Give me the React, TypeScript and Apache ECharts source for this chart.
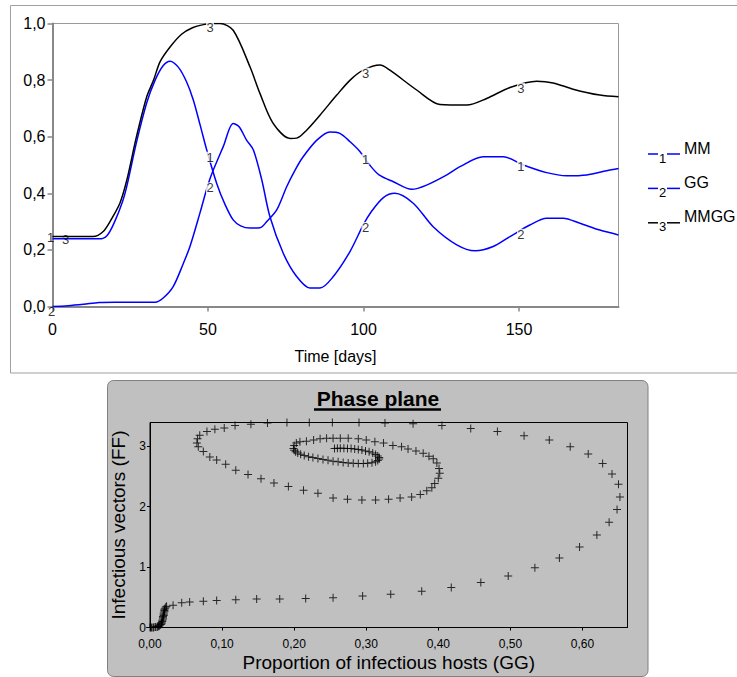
import React, { useEffect, useRef } from "react";
import * as echarts from "echarts";

const FONT = '"Liberation Sans", Arial, sans-serif';

// ---- top chart: time series ----
const seriesNames = ["MM", "GG", "MMGG"];
const seriesDigits = ["1", "2", "3"];
const seriesColors = ["#0000ff", "#0000ff", "#000000"];
const labelDays = [0, 50, 100, 150];
const timeTicks = [0, 50, 100, 150];
const valueTicks = [0, 0.2, 0.4, 0.6, 0.8, 1.0];

const mmPoints: [number, number][] = [
  [0, 0.239], [15, 0.239], [17.5, 0.25], [20, 0.3], [22.5, 0.37], [24, 0.43], [27, 0.58],
  [30.3, 0.72], [33, 0.8], [35.5, 0.85], [37.8, 0.867], [40.5, 0.845], [43.1, 0.794],
  [45.3, 0.729], [47.5, 0.64], [49.6, 0.553], [52.8, 0.435], [55.5, 0.36], [58.1, 0.306],
  [60.5, 0.285], [63.5, 0.277], [66.7, 0.278], [68.9, 0.3], [72.1, 0.341], [75.3, 0.423],
  [78, 0.482], [80.6, 0.529], [85, 0.588], [89.2, 0.617], [92.4, 0.612], [95.7, 0.582],
  [98.9, 0.547], [102, 0.5], [105, 0.465], [109.6, 0.441], [115.5, 0.414], [120.3, 0.429],
  [126.8, 0.465], [131, 0.494], [138.5, 0.529], [145, 0.529], [151.4, 0.5], [158.9, 0.473],
  [165.3, 0.462], [171.8, 0.465], [178.2, 0.48], [182, 0.488],
];

const ggPoints: [number, number][] = [
  [0, 0], [5, 0.003], [10, 0.008], [15, 0.014], [20, 0.015], [33, 0.015], [35.6, 0.03],
  [38.8, 0.07], [42.1, 0.153], [44.2, 0.212], [47.4, 0.33], [50, 0.43], [51.7, 0.482],
  [54.9, 0.565], [58.1, 0.647], [60, 0.635], [62.4, 0.588], [64.6, 0.553], [67.3, 0.447],
  [69.9, 0.318], [74.2, 0.188], [78.5, 0.106], [82.8, 0.065], [86, 0.065], [90.3, 0.106],
  [95.7, 0.195], [100, 0.29], [102.5, 0.335], [106.4, 0.385], [110.1, 0.4], [116, 0.365],
  [122.4, 0.282], [130, 0.218], [135.9, 0.197], [141.7, 0.212], [147.1, 0.247],
  [153.5, 0.288], [158.9, 0.312], [164.2, 0.312], [169.6, 0.294], [176, 0.27], [182, 0.253],
];

const mmggPoints: [number, number][] = [
  [0, 0.247], [13, 0.247], [16.3, 0.265], [19, 0.31], [21.7, 0.366], [23.9, 0.447], [27, 0.6],
  [30.3, 0.741], [32.5, 0.8], [34.6, 0.865], [37.8, 0.917], [41.5, 0.962], [45, 0.985],
  [48.5, 0.996], [51.6, 1.0], [53.9, 1.0], [58.1, 0.976], [63.5, 0.847], [66.7, 0.753],
  [70.9, 0.648], [76.4, 0.594], [78.5, 0.595], [81.7, 0.623], [86, 0.676], [91.4, 0.747],
  [95.7, 0.8], [99.9, 0.835], [105.3, 0.853], [108.5, 0.835], [117.1, 0.765], [124.6, 0.714],
  [133.2, 0.712], [139.6, 0.735], [147.1, 0.774], [155.7, 0.796], [161, 0.79],
  [167.4, 0.768], [176, 0.747], [182, 0.741],
];

// ---- bottom chart: phase plane (GG, FF) ----
const phasePoints: [number, number][] = [
  [0.0, 0.0], [0.001, 0.0], [0.002, 0.0], [0.004, 0.0], [0.005, 0.0], [0.007, 0.01], [0.008, 0.01],
  [0.01, 0.01], [0.011, 0.02], [0.012, 0.02], [0.013, 0.03], [0.014, 0.04], [0.015, 0.05],
  [0.016, 0.06], [0.016, 0.08], [0.017, 0.1], [0.017, 0.12], [0.018, 0.14], [0.018, 0.16],
  [0.018, 0.18], [0.019, 0.2], [0.019, 0.22], [0.019, 0.24], [0.02, 0.26], [0.02, 0.28],
  [0.02, 0.3], [0.021, 0.32], [0.022, 0.34],
  [0.023, 0.35], [0.032, 0.37], [0.044, 0.41], [0.055, 0.42], [0.074, 0.435], [0.0925, 0.447],
  [0.119, 0.46], [0.148, 0.47], [0.18, 0.47], [0.216, 0.48], [0.254, 0.49], [0.295, 0.52],
  [0.334, 0.55], [0.377, 0.6], [0.418, 0.66], [0.459, 0.745], [0.497, 0.85], [0.534, 0.99],
  [0.568, 1.15], [0.596, 1.33], [0.62, 1.53], [0.637, 1.74], [0.648, 1.95], [0.652, 2.16],
  [0.65, 2.37], [0.641, 2.54], [0.628, 2.71], [0.608, 2.87], [0.583, 2.99], [0.554, 3.1],
  [0.519, 3.17], [0.482, 3.24], [0.445, 3.29], [0.405, 3.34], [0.365, 3.37], [0.326, 3.38],
  [0.29, 3.39], [0.253, 3.39], [0.221, 3.39], [0.19, 3.39], [0.163, 3.38], [0.14, 3.36],
  [0.118, 3.34], [0.103, 3.3], [0.09, 3.28], [0.079, 3.24], [0.069, 3.18], [0.066, 3.12],
  [0.065, 3.05], [0.067, 2.99], [0.074, 2.91], [0.083, 2.82], [0.0925, 2.77], [0.105, 2.7],
  [0.119, 2.6], [0.136, 2.53], [0.154, 2.46], [0.172, 2.39], [0.192, 2.33], [0.213, 2.27],
  [0.233, 2.22], [0.254, 2.14], [0.274, 2.12], [0.294, 2.11], [0.313, 2.11], [0.331, 2.12],
  [0.347, 2.14], [0.363, 2.16], [0.375, 2.2], [0.384, 2.26], [0.391, 2.31], [0.395, 2.38],
  [0.4, 2.47], [0.402, 2.55], [0.401, 2.63], [0.398, 2.72], [0.393, 2.79], [0.387, 2.83],
  [0.379, 2.88], [0.369, 2.92], [0.358, 2.95], [0.349, 2.99], [0.337, 3.01], [0.324, 3.05],
  [0.312, 3.07], [0.3, 3.1], [0.289, 3.12], [0.275, 3.13], [0.264, 3.13], [0.254, 3.13],
  [0.245, 3.13], [0.236, 3.12], [0.227, 3.1], [0.217, 3.08], [0.208, 3.07], [0.203, 3.05],
  [0.2, 3.01], [0.199, 2.96], [0.2, 2.93], [0.202, 2.905], [0.205, 2.885], [0.209, 2.865],
  [0.214, 2.845], [0.22, 2.825], [0.226, 2.81], [0.233, 2.795], [0.24, 2.78], [0.247, 2.765],
  [0.254, 2.75], [0.261, 2.74], [0.268, 2.73], [0.275, 2.72], [0.282, 2.715], [0.289, 2.71],
  [0.296, 2.71], [0.302, 2.715], [0.308, 2.725], [0.313, 2.74], [0.316, 2.76], [0.318, 2.785],
  [0.318, 2.81], [0.316, 2.835], [0.313, 2.86], [0.309, 2.885], [0.304, 2.905], [0.299, 2.92],
  [0.294, 2.935], [0.289, 2.945], [0.284, 2.952], [0.279, 2.958], [0.274, 2.962],
  [0.269, 2.964], [0.264, 2.965], [0.26, 2.964], [0.256, 2.962],
];

const seriesPoints = [mmPoints, ggPoints, mmggPoints];
// label offsets for the day-0 labels (layout only)
const startLabelOffsets: [number, number][] = [[-2, -1], [-1, 5], [13, 3]];

function valueAt(points: [number, number][], t: number): number {
  for (let i = 0; i < points.length - 1; i++) {
    const [t0, v0] = points[i];
    const [t1, v1] = points[i + 1];
    if (t >= t0 && t <= t1) {
      if (t1 === t0) return v0;
      return v0 + ((v1 - v0) * (t - t0)) / (t1 - t0);
    }
  }
  return points[points.length - 1][1];
}

const crossSymbol = "path://M3.5,0h1v8h-1zM0,3.5h8v1h-8z";

export default function App() {
  const ref = useRef<HTMLDivElement>(null);
  useEffect(() => {
    if (!ref.current) return;
    const chart = echarts.init(ref.current, undefined, { renderer: "svg" });

    const lineSeries = seriesNames.map((name, i) => ({
      name,
      type: "line",
      xAxisIndex: 0,
      yAxisIndex: 0,
      data: seriesPoints[i],
      showSymbol: false,
      symbol: "none",
      smooth: 0.3,
      lineStyle: { color: seriesColors[i], width: 1.5 },
      z: 2,
    }));

    const labelSeries = seriesNames.map((name, i) => ({
      name: name + "-labels",
      type: "scatter",
      xAxisIndex: 0,
      yAxisIndex: 0,
      symbol: "rect",
      symbolSize: [8, 11],
      symbolOffset: [2, 3],
      itemStyle: { color: "#ffffff" },
      clip: false,
      z: 3,
      label: {
        show: true,
        position: "inside",
        formatter: seriesDigits[i],
        color: "#000",
        fontSize: 13,
        fontFamily: FONT,
      },
      data: labelDays.map((d) => {
        const item: any = { value: [d, valueAt(seriesPoints[i], d)] };
        if (d === labelDays[0]) {
          item.itemStyle = { color: "transparent" };
          item.symbolOffset = startLabelOffsets[i];
        }
        return item;
      }),
    }));

    const legendGraphics: any[] = [];
    seriesNames.forEach((name, i) => {
      const y = 154 + i * 34.4;
      legendGraphics.push(
        { type: "line", shape: { x1: 648, y1: y, x2: 658, y2: y }, style: { stroke: seriesColors[i], lineWidth: 1.5 } },
        { type: "line", shape: { x1: 667, y1: y, x2: 680, y2: y }, style: { stroke: seriesColors[i], lineWidth: 1.5 } },
        {
          type: "text", x: 662.5, y: y + 4,
          style: { text: seriesDigits[i], fontSize: 13, fontFamily: FONT, fill: "#000", align: "center", verticalAlign: "middle" },
        },
        {
          type: "text", x: 684, y: y - 6,
          style: { text: name, fontSize: 16, fontFamily: FONT, fill: "#000", align: "left", verticalAlign: "middle" },
        }
      );
    });

    const option: any = {
      animation: false,
      textStyle: { fontFamily: FONT },
      graphic: [
        {
          type: "rect", z: -10,
          shape: { x: 10.5, y: 5.5, width: 740, height: 367.5 },
          style: { fill: "none", stroke: "#a0a0a0", lineWidth: 1 },
        },
        {
          type: "rect", z: -10,
          shape: { x: 107.5, y: 380.5, width: 540.5, height: 296, r: 6 },
          style: { fill: "#c0c0c0", stroke: "#808080", lineWidth: 1 },
        },
        {
          type: "text", x: 378, y: 398,
          style: { text: "Phase plane", fontSize: 21, fontWeight: "bold", fontFamily: FONT, fill: "#000", align: "center", verticalAlign: "middle" },
        },
        { type: "line", shape: { x1: 314, y1: 409.5, x2: 441, y2: 409.5 }, style: { stroke: "#000", lineWidth: 2.5 } },
        ...legendGraphics,
      ],
      grid: [
        { left: 52.5, top: 23.5, width: 566, height: 283, show: true, borderColor: "#999", borderWidth: 1, backgroundColor: "transparent" },
        { left: 150, top: 422.5, width: 477.5, height: 205, show: true, borderColor: "#000", borderWidth: 1, backgroundColor: "transparent" },
      ],
      xAxis: [
        {
          gridIndex: 0, type: "value", min: 0, max: 182, interval: 50,
          name: "Time [days]", nameLocation: "middle", nameGap: 42,
          nameTextStyle: { fontSize: 16, color: "#000", fontFamily: FONT },
          axisLine: { show: true, onZero: false, lineStyle: { color: "#888", width: 2 } },
          axisTick: { show: true, length: 5, lineStyle: { color: "#888", width: 1.5 } },
          axisLabel: {
            fontSize: 16, color: "#000", margin: 15, showMaxLabel: false,
            formatter: (v: number) => (timeTicks.includes(v) ? String(v) : ""),
          },
          splitLine: { show: false },
        },
        {
          gridIndex: 1, type: "value", min: 0, max: 0.6625, interval: 0.1,
          name: "Proportion of infectious hosts (GG)", nameLocation: "middle", nameGap: 25,
          nameTextStyle: { fontSize: 19, color: "#000", fontFamily: FONT },
          axisLine: { show: true, onZero: false, lineStyle: { color: "#000", width: 1 } },
          axisTick: { show: true, length: 3, lineStyle: { color: "#000", width: 1 } },
          axisLabel: {
            fontSize: 12, color: "#000", margin: 10, showMaxLabel: false,
            formatter: (v: number) =>
              Math.abs(v * 10 - Math.round(v * 10)) < 1e-6 ? v.toFixed(2).replace(".", ",") : "",
          },
          splitLine: { show: false },
        },
      ],
      yAxis: [
        {
          gridIndex: 0, type: "value", min: 0, max: 1, interval: 0.2,
          axisLine: { show: true, onZero: false, lineStyle: { color: "#888", width: 2 } },
          axisTick: { show: true, length: 5, lineStyle: { color: "#888", width: 1.5 } },
          axisLabel: {
            fontSize: 16, color: "#000", margin: 7,
            formatter: (v: number) => {
              const hit = valueTicks.find((t) => Math.abs(t - v) < 1e-6);
              return hit === undefined ? "" : hit.toFixed(1).replace(".", ",");
            },
          },
          splitLine: { show: false },
        },
        {
          gridIndex: 1, type: "value", min: 0, max: 3.39, interval: 1,
          name: "Infectious vectors (FF)", nameLocation: "middle", nameGap: 17.5,
          nameTextStyle: { fontSize: 19, color: "#000", fontFamily: FONT },
          axisLine: { show: true, onZero: false, lineStyle: { color: "#000", width: 1 } },
          axisTick: { show: true, length: 3, lineStyle: { color: "#000", width: 1 } },
          axisLabel: {
            fontSize: 12, color: "#000", margin: 4, showMaxLabel: false,
            formatter: (v: number) =>
              Math.abs(v - Math.round(v)) < 1e-6 ? String(Math.round(v)) : "",
          },
          splitLine: { show: false },
        },
      ],
      series: [
        ...lineSeries,
        ...labelSeries,
        {
          name: "Phase plane",
          type: "scatter",
          xAxisIndex: 1,
          yAxisIndex: 1,
          symbol: crossSymbol,
          symbolSize: 8,
          clip: false,
          itemStyle: { color: "#000" },
          data: phasePoints,
          z: 4,
        },
      ],
    };

    chart.setOption(option);
    return () => chart.dispose();
  }, []);

  return (
    <div
      ref={ref}
      style={{ position: "absolute", left: 0, top: 0, width: 737, height: 677, background: "#fff" }}
    />
  );
}
